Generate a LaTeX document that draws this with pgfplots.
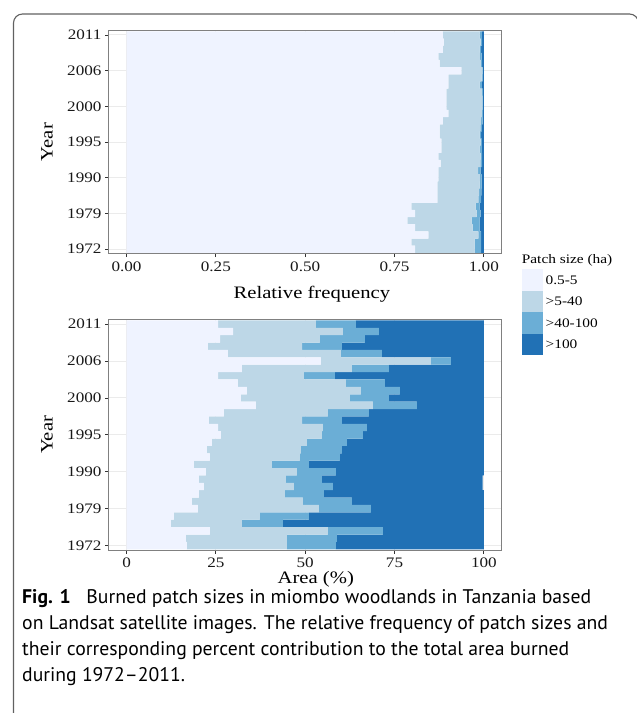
\documentclass[border=0pt]{standalone}
\usepackage{fontspec}
\setmainfont{Liberation Serif}[FakeStretch=1.18]
\newfontfamily\capfont{PT Sans}[Ligatures=TeX]
\usepackage{pgfplots}
\usepackage{pgfplotstable}
\pgfplotsset{compat=1.18}

\definecolor{pa}{HTML}{EFF3FF}
\definecolor{pb}{HTML}{BDD7E7}
\definecolor{pc}{HTML}{6BAED6}
\definecolor{pd}{HTML}{2171B5}

% relative frequency of patch size classes, i = year index (0 = 1972, 30 = 2011)
\pgfplotstableread{
i a b c d
0 .808 .166 .0187 .0073
1 .797 .177 .0187 .0073
2 .845 .140 .0077 .0073
3 .808 .1603 .0197 .012
4 .786 .1795 .0225 .012
5 .808 .1715 .0115 .009
6 .797 .1797 .0113 .012
7 .870 .115 .0077 .0073
8 .870 .117 .006 .007
9 .870 .118 .006 .006
10 .873 .116 .005 .006
11 .873 .111 .007 .009
12 .879 .111 .005 .005
13 .873 .118 .0045 .0045
14 .881 .107 .0064 .0056
15 .881 .110 .0034 .0056
16 .876 .112 .0047 .0073
17 .876 .114 .0044 .0056
18 .885 .1077 .0037 .0036
19 .901 .0945 .0015 .003
20 .895 .101 .001 .003
21 .895 .101 .001 .003
22 .895 .100 .002 .003
23 .901 .087 .0064 .0056
24 .901 .0926 .0028 .0036
25 .937 .059 .001 .003
26 .876 .116 .0035 .0045
27 .873 .116 .0046 .0064
28 .885 .103 .0047 .0073
29 .888 .103 .0045 .0045
30 .885 .103 .0064 .0056
}\freqtab

% share of burned area (%)
\pgfplotstableread{
i a b c d
0 16.88 27.99 13.71 41.42
1 16.60 28.27 13.99 41.14
2 23.32 33.02 15.40 28.26
3 12.41 19.87 11.47 56.25
4 13.25 24.06 13.72 48.97
5 19.96 33.86 14.56 31.62
6 18.28 31.07 13.71 36.94
7 20.24 24.07 10.91 44.78
8 21.64 25.19 10.91 41.90
9 20.24 24.35 10.07 45.00
10 22.20 25.47 10.91 41.42
11 18.84 21.83 10.36 48.97
12 23.32 25.19 11.19 40.30
13 22.48 26.31 11.47 39.74
14 23.88 26.59 11.19 38.34
15 26.40 28.26 11.48 33.86
16 25.65 29.29 12.32 32.74
17 23.04 26.12 11.10 39.74
18 27.24 29.10 11.48 32.18
19 36.19 32.75 12.31 18.75
20 32.00 30.50 10.91 26.59
21 33.68 31.90 10.91 23.51
22 31.16 30.22 10.91 27.71
23 25.65 23.98 8.67 41.70
24 32.28 30.78 10.35 26.59
25 54.38 30.79 5.59 9.24
26 28.36 31.62 11.48 28.54
27 22.76 26.40 11.10 39.74
28 26.21 27.89 12.60 33.30
29 29.85 30.69 10.08 29.38
30 25.65 27.34 11.19 35.82
}\areatab

\pgfplotsset{
  patch/.style={
    scale only axis, width=393pt,
    xbar stacked, bar width=1,
    ymin=-0.6, ymax=30.6,
    ytick={0,5,...,30},
    yticklabels={1972,1979,1990,1995,2000,2006,2011},
    tick pos=left, tick align=outside,
    major tick length=3.7pt,
    tick style={color=black!80, line width=0.9pt},
    axis line style={color=black!50, line width=0.9pt},
    ymajorgrids, xmajorgrids,
    major grid style={color=black!8, line width=1pt},
    tick label style={font=\fontsize{14.5}{16}\selectfont, text=black!90},
    xticklabel style={yshift=-1pt},
    label style={font=\fontsize{17.5}{20}\selectfont, inner sep=0pt},
    /pgf/number format/assume math mode=true,
    clip=false,
    every axis plot/.append style={draw=none},
  },
}

\begin{document}
\begin{tikzpicture}
\path[use as bounding box] (0,0) rectangle (637pt,-713pt);

\begin{axis}[patch,
  at={(108.7pt,-30.7pt)}, anchor=north west, height=222.8pt,
  xmin=-0.05, xmax=1.05,
  xtick={0,0.25,0.5,0.75,1},
  xticklabels={0.00,0.25,0.50,0.75,1.00},
  xlabel={Relative frequency}, ylabel={Year},
  xlabel style={at={(0.517,-0.184)}, anchor=center},
  ylabel style={at={(-0.157,0.5)}, anchor=center},
  legend style={at={(1.0509,-0.0709)}, anchor=north west, draw=none, fill=none,
    inner sep=0pt, outer sep=0pt, row sep=0pt,
    font=\fontsize{13}{15}\selectfont,
    nodes={inner sep=0pt, outer sep=0pt, text depth=0pt}},
  legend cell align=left,
  legend image code/.code={\fill[#1] (0pt,-10.7pt) rectangle (21.6pt,10.7pt);},
]
\addplot[fill=pa] table[x=a, y=i] {\freqtab};
\addplot[fill=pb] table[x=b, y=i] {\freqtab};
\addplot[fill=pc] table[x=c, y=i] {\freqtab};
\addplot[fill=pd] table[x=d, y=i] {\freqtab};
\legend{\hspace{2.4pt}0.5-5, \hspace{2.4pt}>5-40, \hspace{2.4pt}>40-100, \hspace{2.4pt}>100}
\node[anchor=west, inner sep=0pt, font=\fontsize{13}{15}\selectfont]
  at (rel axis cs:1.0509,-0.0323) {Patch size (ha)};
\end{axis}

\begin{axis}[patch,
  at={(108.7pt,-319.7pt)}, anchor=north west, height=230.3pt,
  xmin=-5, xmax=105,
  xtick={0,25,50,75,100},
  xlabel={Area (\%)}, ylabel={Year},
  xlabel style={at={(0.527,-0.128)}, anchor=center},
  ylabel style={at={(-0.157,0.5)}, anchor=center},
]
\addplot[fill=pa] table[x=a, y=i] {\areatab};
\addplot[fill=pb] table[x=b, y=i] {\areatab};
\addplot[fill=pc] table[x=c, y=i] {\areatab};
\addplot[fill=pd] table[x=d, y=i] {\areatab};
\end{axis}

\draw[color=black!62, line width=1.1pt, rounded corners=9pt]
  (13.5pt,-740pt) -- (13.5pt,-14pt) -- (638.5pt,-14pt) -- (638.5pt,-40pt);

\begin{scope}[every node/.style={anchor=base west, inner sep=0pt,
    font=\capfont\fontsize{19.7}{22}\selectfont}]
\node at (22pt,-603pt) {\textbf{Fig. 1}\hspace{0.8em}Burned patch sizes in miombo woodlands in Tanzania based};
\node at (22pt,-629pt) {on Landsat satellite images. The relative frequency of patch sizes and};
\node at (22pt,-655pt) {their corresponding percent contribution to the total area burned};
\node at (22pt,-681pt) {during 1972–2011.};
\end{scope}
\end{tikzpicture}
\end{document}
